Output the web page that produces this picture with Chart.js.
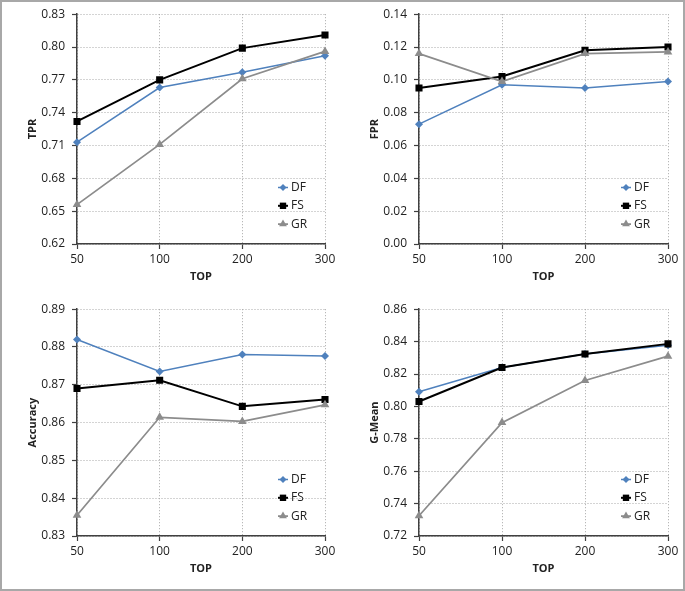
<!DOCTYPE html>
<html>
<head>
<meta charset="utf-8">
<script src="https://cdn.jsdelivr.net/npm/chart.js@4"></script>
<style>
  html, body { margin: 0; padding: 0; background: #fff; }
  #frame { position: absolute; left: 0; top: 0; width: 685px; height: 591px;
           box-sizing: border-box; border: 2px solid #a8a8a8; }
  canvas { position: absolute; }
</style>
</head>
<body>
<div id="frame"></div>
<canvas id="tpr" width="342" height="295" style="left:0;top:0"></canvas>
<canvas id="fpr" width="343" height="295" style="left:342px;top:0"></canvas>
<canvas id="acc" width="342" height="296" style="left:0;top:295px"></canvas>
<canvas id="gmean" width="343" height="296" style="left:342px;top:295px"></canvas>
<script>
// x categories (TOP)
var categories = ['50', '100', '200', '300'];
var seriesNames = ['DF', 'FS', 'GR'];

// TPR
var tprDF = [0.713, 0.763, 0.777, 0.792];
var tprFS = [0.732, 0.770, 0.799, 0.811];
var tprGR = [0.656, 0.711, 0.771, 0.796];
var tprTicks = [0.62, 0.65, 0.68, 0.71, 0.74, 0.77, 0.80, 0.83];

// FPR
var fprDF = [0.073, 0.097, 0.095, 0.099];
var fprFS = [0.095, 0.102, 0.118, 0.120];
var fprGR = [0.116, 0.099, 0.116, 0.117];
var fprTicks = [0.00, 0.02, 0.04, 0.06, 0.08, 0.10, 0.12, 0.14];

// Accuracy
var accDF = [0.882, 0.8735, 0.878, 0.8776];
var accFS = [0.869, 0.8712, 0.8643, 0.8661];
var accGR = [0.8355, 0.8614, 0.8603, 0.8647];
var accTicks = [0.83, 0.84, 0.85, 0.86, 0.87, 0.88, 0.89];

// G-Mean
var gmDF = [0.809, 0.824, 0.8323, 0.8377];
var gmFS = [0.803, 0.824, 0.8323, 0.8386];
var gmGR = [0.7325, 0.790, 0.816, 0.831];
var gmTicks = [0.72, 0.74, 0.76, 0.78, 0.80, 0.82, 0.84, 0.86];

var colors = ['#4f81bd', '#000000', '#8c8c8c'];
var styles = ['rectRot', 'rect', 'triangle'];
var radii = [4, 5, 5];
var widths = [1.5, 2, 1.75];

var tickFont = { family: 'Open Sans', size: 12 };
var titleFont = { family: 'Open Sans', size: 11, weight: 'bold' };

// legend drawn inside the plot area, lower right
var innerLegend = {
  id: 'innerLegend',
  afterDatasetsDraw: function (chart) {
    var ctx = chart.ctx, area = chart.chartArea;
    ctx.save();
    chart.data.datasets.forEach(function (ds, i) {
      var y = area.bottom - 56.5 + i * 18.3;
      var x0 = area.right - 47, x1 = area.right - 37;
      ctx.strokeStyle = ds.borderColor;
      ctx.lineWidth = ds.borderWidth;
      ctx.beginPath();
      ctx.moveTo(x0, y);
      ctx.lineTo(x1, y);
      ctx.stroke();
      ctx.fillStyle = ds.borderColor;
      Chart.helpers.drawPoint(ctx, { pointStyle: ds.pointStyle, radius: ds.pointRadius - 0.5, rotation: 0, borderWidth: 0 }, (x0 + x1) / 2, y);
      ctx.fillStyle = '#222';
      ctx.font = '12px "Open Sans"';
      ctx.textAlign = 'left';
      ctx.textBaseline = 'middle';
      ctx.fillText(seriesNames[i], area.right - 34, y);
    });
    ctx.restore();
  }
};

function makeChart(id, yTitle, lists, ticks, areaTop, areaBottom, canvasH) {
  var datasets = lists.map(function (vals, i) {
    return {
      label: seriesNames[i],
      data: vals,
      borderColor: colors[i],
      backgroundColor: colors[i],
      borderWidth: widths[i],
      pointStyle: styles[i],
      pointRadius: radii[i],
      pointBorderWidth: 0,
      pointHoverRadius: radii[i],
      tension: 0,
      order: 3 - i
    };
  });
  return new Chart(document.getElementById(id).getContext('2d'), {
    type: 'line',
    data: { labels: categories, datasets: datasets },
    options: {
      responsive: false,
      animation: false,
      events: [],
      layout: { padding: { top: areaTop, right: 17, bottom: 0, left: 0 } },
      plugins: { legend: { display: false }, tooltip: { enabled: false } },
      scales: {
        x: {
          type: 'category',
          offset: false,
          grid: { color: '#a8a8a8', lineWidth: 1, tickLength: 5, tickColor: '#404040', tickWidth: 1.2, tickBorderDash: [] },
          border: { color: '#404040', width: 1.5, dash: [1, 2] },
          ticks: { font: tickFont, color: '#222', padding: 3, maxRotation: 0 },
          title: { display: true, text: 'TOP', font: titleFont, color: '#222', padding: { top: 0, bottom: canvasH - areaBottom - 51 + 11.4 } },
          afterFit: function (axis) { axis.height = canvasH - areaBottom; }
        },
        y: {
          min: ticks[0],
          max: ticks[ticks.length - 1],
          grid: { color: '#a8a8a8', lineWidth: 1, tickLength: 5, tickColor: '#404040', tickWidth: 1.2, tickBorderDash: [] },
          border: { color: '#404040', width: 1.5, dash: [1, 2] },
          ticks: { font: tickFont, color: '#222', padding: 7, callback: function (v) { return Number(v).toFixed(2); } },
          afterBuildTicks: function (axis) { axis.ticks = ticks.map(function (v) { return { value: v }; }); },
          title: { display: true, text: yTitle, font: titleFont, color: '#222', padding: { top: 26.4, bottom: 0 } },
          afterFit: function (axis) { axis.width = 77; }
        }
      }
    },
    plugins: [innerLegend]
  });
}

makeChart('tpr', 'TPR', [tprDF, tprFS, tprGR], tprTicks, 11, 244, 295);
makeChart('fpr', 'FPR', [fprDF, fprFS, fprGR], fprTicks, 11, 244, 295);
makeChart('acc', 'Accuracy', [accDF, accFS, accGR], accTicks, 8, 241, 296);
makeChart('gmean', 'G-Mean', [gmDF, gmFS, gmGR], gmTicks, 8, 241, 296);
</script>
</body>
</html>
